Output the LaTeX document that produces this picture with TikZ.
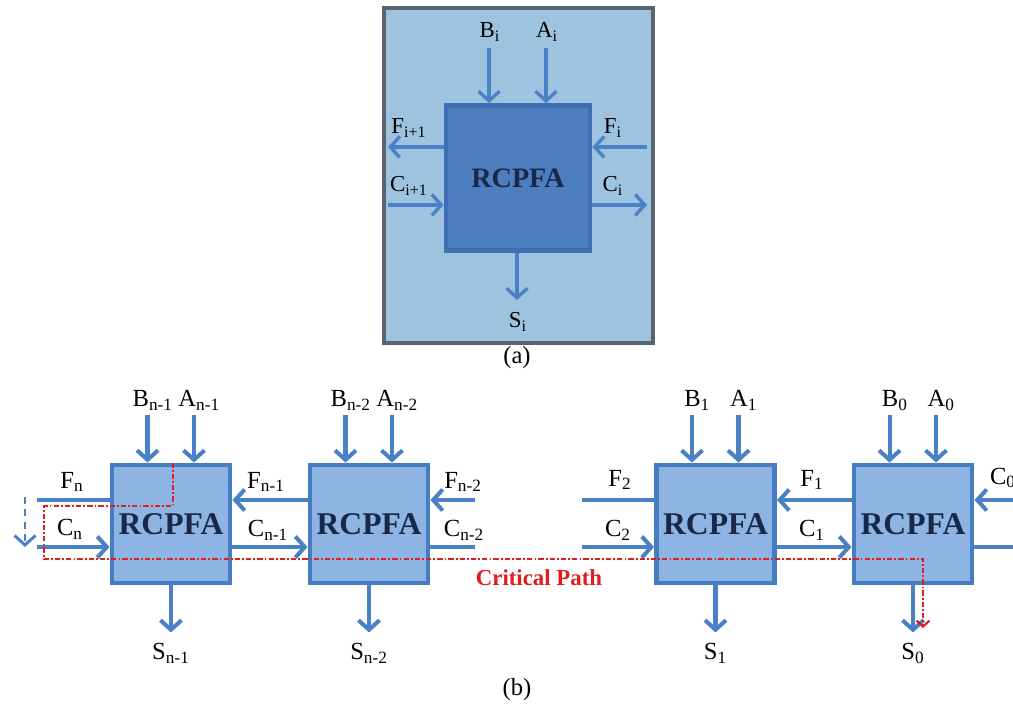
\documentclass[tikz,border=0pt]{standalone}
\usepackage{fontspec}
\setmainfont{Liberation Serif}
\usetikzlibrary{arrows.meta,positioning}
\definecolor{PanelClr}{RGB}{158,195,222}
\definecolor{FrameClr}{RGB}{88,100,112}
\definecolor{CellClr}{RGB}{76,126,192}
\definecolor{CellLine}{RGB}{62,110,180}
\definecolor{BoxClr}{RGB}{141,180,226}
\definecolor{BoxLine}{RGB}{70,124,194}
\definecolor{WireClr}{RGB}{74,128,198}
\definecolor{TextClr}{RGB}{25,40,72}
\definecolor{PathClr}{RGB}{224,30,30}
\newcommand{\sig}[2]{#1\textsubscript{#2}}

\tikzset{
  wire/.style={line width=2.3pt,color=WireClr,-{Straight Barb[length=1.9mm,width=4.2mm]}},
  bare/.style={line width=2.3pt,color=WireClr},
  thin wire/.style={wire,line width=1.9pt},
  crit/.style={line width=1.2pt,color=PathClr,dash pattern=on 3pt off 1.2pt on 1pt off 1.2pt,-{Straight Barb[length=1.2mm,width=2.6mm]}},
  lbl/.style={font=\fontsize{14}{14}\selectfont,inner sep=1pt},
  tlbl/.style={font=\fontsize{13}{13}\selectfont,inner sep=1pt},
  cell/.style={draw=BoxLine,line width=2.8pt,fill=BoxClr,minimum width=2.36cm,minimum height=2.36cm,
    font=\fontsize{18}{18}\selectfont\bfseries,text=TextClr},
}

\begin{document}
\begin{tikzpicture}[x=0.02cm,y=-0.02cm]
\useasboundingbox (0,0) rectangle (1013,713);

% (a) single cell
\node[draw=FrameClr,line width=1.8pt,fill=PanelClr,minimum width=5.38cm,minimum height=6.7cm,inner sep=0pt] (panel) at (518.5,175.5) {};
\node[cell,fill=CellClr,draw=CellLine,minimum width=2.88cm,minimum height=2.9cm,font=\fontsize{16}{16}\selectfont\bfseries] (ci) at (518,178) {RCPFA};

\coordinate (bi) at (489,48);
\coordinate (ai) at (546,48);
\coordinate (fo) at (388,147);
\coordinate (co) at (388,205);
\coordinate (fi) at (647,147);
\coordinate (cx) at (647,205);
\coordinate (si) at (517,300);

\draw[thin wire] (bi) -- (bi |- ci.north);
\draw[thin wire] (ai) -- (ai |- ci.north);
\draw[thin wire] (fo -| ci.west) -- (fo);
\draw[thin wire] (co) -- (co -| ci.west);
\draw[thin wire] (fi) -- (fi -| ci.east);
\draw[thin wire] (cx -| ci.east) -- (cx);
\draw[thin wire] (si |- ci.south) -- (si);

\node[tlbl] (lbi) at (490,32) {\sig{B}{i}};
\node[tlbl] (lai) at (547,32) {\sig{A}{i}};
\node[tlbl] (lfo) at (409,128) {\sig{F}{i+1}};
\node[tlbl] (lco) at (409,186) {\sig{C}{i+1}};
\node[tlbl] (lfi) at (613,128) {\sig{F}{i}};
\node[tlbl] (lcx) at (613,186) {\sig{C}{i}};
\node[tlbl] (lsi) at (518,322) {\sig{S}{i}};
\node[font=\fontsize{14}{14}\selectfont] (capa) at (517,358) {(a)};

% (b) ripple chain
\foreach \name/\x/\k in {c1/171/n-1, c2/369/n-2, c3/715.5/1, c4/913/0}{
  \node[cell] (\name) at (\x,524) {RCPFA};
  \draw[wire] ([xshift=-0.47cm,yshift=0.96cm]\name.north) coordinate (\name b) -- ([xshift=-0.47cm]\name.north);
  \draw[wire] ([xshift=0.46cm,yshift=0.96cm]\name.north) coordinate (\name a) -- ([xshift=0.46cm]\name.north);
  \draw[wire] (\name.south) -- ++(0,47) coordinate (\name s);
  \node[lbl,above=1pt] at ([xshift=3pt]\name b) {\sig{B}{\k}};
  \node[lbl,above=1pt] at ([xshift=3pt]\name a) {\sig{A}{\k}};
  \node[lbl,below=5pt] at (\name s) {\sig{S}{\k}};
}

\coordinate (fr) at (0,500);
\coordinate (cr) at (0,547);
\coordinate (fn) at (37,500);
\coordinate (cn) at (37,547);
\coordinate (fm) at (475,500);
\coordinate (cm) at (475,547);
\coordinate (ft) at (582,500);
\coordinate (ct) at (582,547);
\coordinate (fz) at (1013,500);
\coordinate (cz) at (1013,547);

\draw[bare] (fn) -- (fn -| c1.west);
\draw[wire] (cn) -- (cn -| c1.west);
\draw[wire] (c2.west |- fr) -- (c1.east |- fr);
\draw[wire] (c1.east |- cr) -- (c2.west |- cr);
\draw[wire] (fm) -- (fm -| c2.east);
\draw[bare] (c2.east |- cr) -- (cm);
\draw[bare] (ft) -- (ft -| c3.west);
\draw[wire] (ct) -- (ct -| c3.west);
\draw[wire] (c4.west |- fr) -- (c3.east |- fr);
\draw[wire] (c3.east |- cr) -- (c4.west |- cr);
\draw[wire] (fz) -- (fz -| c4.east);
\draw[bare] (c4.east |- cr) -- (cz);

\node[lbl] (lfn) at (72,482) {\sig{F}{n}};
\node[lbl] (lcn) at (70,529) {\sig{C}{n}};
\node[lbl] (lfn1) at (266,482) {\sig{F}{n-1}};
\node[lbl] (lcn1) at (268,530) {\sig{C}{n-1}};
\node[lbl] (lfn2) at (463,482) {\sig{F}{n-2}};
\node[lbl] (lcn2) at (464,530) {\sig{C}{n-2}};
\node[lbl] (lf2) at (620,480) {\sig{F}{2}};
\node[lbl] (lc2) at (618,530) {\sig{C}{2}};
\node[lbl] (lf1) at (812,480) {\sig{F}{1}};
\node[lbl] (lc1) at (812,530) {\sig{C}{1}};
\node[lbl] (lc0) at (1003,478) {\sig{C}{0}};

% carry-out hint on the far left
\coordinate (dA) at (25,497);
\coordinate (dB) at (25,547);
\draw[wire,line width=1.7pt,dash pattern=on 4pt off 3pt] (dA) -- (dB);

% critical path
\coordinate (cpB) at (44,506);
\coordinate (cpC) at (923,559);
\coordinate (cpD) at (923,628);
\draw[crit] ([xshift=1pt]c1.north) |- (cpB) |- (cpC) -- (cpD);
\node[font=\fontsize{13}{13}\selectfont\bfseries,text=PathClr] (cplbl) at (539,578) {Critical Path};

\node[font=\fontsize{14}{14}\selectfont] (capb) at (517,690) {(b)};
\end{tikzpicture}
\end{document}
